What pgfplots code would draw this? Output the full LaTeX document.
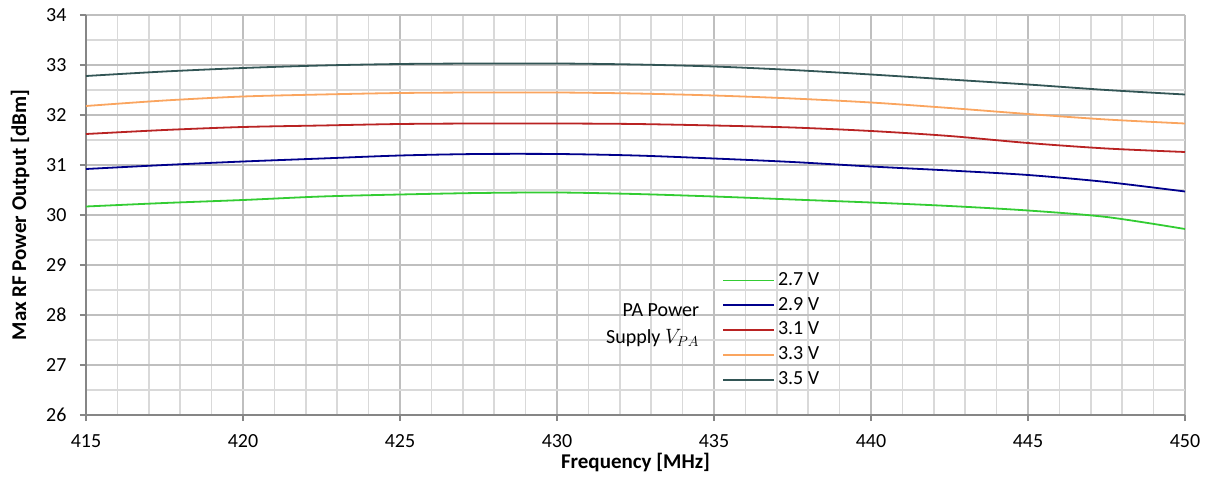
\documentclass[border=0pt]{standalone}
\usepackage{fontspec}
\setmainfont{Carlito}
\usepackage{pgfplots}
\pgfplotsset{compat=1.18}
\definecolor{c27}{RGB}{51,204,51}
\definecolor{c29}{RGB}{0,0,140}
\definecolor{c31}{RGB}{185,35,35}
\definecolor{c33}{RGB}{250,165,95}
\definecolor{c35}{RGB}{50,85,85}
\definecolor{majg}{RGB}{191,191,191}
\definecolor{ming}{RGB}{217,217,217}
\definecolor{axg}{RGB}{134,134,134}
\begin{document}
\begin{tikzpicture}
\useasboundingbox (0,0) rectangle (1210pt,480pt);
\begin{axis}[
  at={(86pt,65pt)}, anchor=south west,
  scale only axis, width=1099pt, height=400pt,
  xmin=415, xmax=450, ymin=26, ymax=34,
  xtick={415,420,...,450}, ytick={26,27,...,34},
  minor x tick num=4, minor y tick num=1,
  grid=both,
  major grid style={majg, line width=1.5pt},
  minor grid style={ming, line width=1.5pt},
  axis x line*=bottom, axis y line*=left,
  axis line style={axg, line width=1.6pt, -},
  tick align=outside, major tick length=6pt, minor tick length=0pt,
  major tick style={axg, line width=1.4pt},
  /pgf/number format/assume math mode=true,
  /pgf/number format/1000 sep={},
  ticklabel style={font=\fontsize{20}{24}\selectfont},
  xticklabel style={yshift=-10pt},
  yticklabel style={xshift=-10pt},
  label style={font=\fontsize{21}{25}\selectfont\bfseries},
  xlabel={Frequency [MHz]},
  ylabel={Max RF Power Output [dBm]},
  xlabel style={at={(axis description cs:0.5,-0.1175)}, anchor=center},
  ylabel style={at={(axis description cs:-0.060,0.5)}, anchor=center},
  legend style={at={(0.5787,0.368)}, anchor=north west, draw=none, fill=none,
    font=\fontsize{20}{24}\selectfont, inner sep=0pt,
    nodes={inner xsep=3pt, inner ysep=2pt, text height=15.3pt, text depth=5.5pt}},
  legend cell align=left,
  legend image code/.code={\draw[#1] (0pt,0pt) -- (51pt,0pt);},
  every axis plot/.append style={line width=1.8pt, smooth},
]
\addplot[c27] coordinates {(415,30.17) (417.5,30.24) (420,30.30) (422.5,30.37) (425,30.41) (427.5,30.44) (430,30.45) (432.5,30.42) (435,30.37) (437.5,30.31) (440,30.25) (442.5,30.18) (445,30.09) (447.5,29.96) (450,29.72)};
\addlegendentry{2.7 V}
\addplot[c29] coordinates {(415,30.92) (417.5,31.00) (420,31.07) (422.5,31.13) (425,31.19) (427.5,31.22) (430,31.22) (432.5,31.19) (435,31.13) (437.5,31.06) (440,30.97) (442.5,30.89) (445,30.80) (447.5,30.66) (450,30.47)};
\addlegendentry{2.9 V}
\addplot[c31] coordinates {(415,31.62) (417.5,31.70) (420,31.76) (422.5,31.79) (425,31.82) (427.5,31.83) (430,31.83) (432.5,31.82) (435,31.79) (437.5,31.75) (440,31.68) (442.5,31.58) (445,31.44) (447.5,31.33) (450,31.26)};
\addlegendentry{3.1 V}
\addplot[c33] coordinates {(415,32.18) (417.5,32.29) (420,32.37) (422.5,32.41) (425,32.44) (427.5,32.45) (430,32.45) (432.5,32.43) (435,32.39) (437.5,32.33) (440,32.25) (442.5,32.14) (445,32.02) (447.5,31.91) (450,31.83)};
\addlegendentry{3.3 V}
\addplot[c35] coordinates {(415,32.78) (417.5,32.87) (420,32.94) (422.5,32.99) (425,33.02) (427.5,33.03) (430,33.03) (432.5,33.01) (435,32.97) (437.5,32.90) (440,32.81) (442.5,32.71) (445,32.61) (447.5,32.50) (450,32.41)};
\addlegendentry{3.5 V}
\node[anchor=east, align=right, font=\fontsize{20}{27}\selectfont, inner sep=0pt] at (rel axis cs:0.558,0.224) {PA Power\\Supply $V_{PA}$};
\end{axis}
\end{tikzpicture}
\end{document}
